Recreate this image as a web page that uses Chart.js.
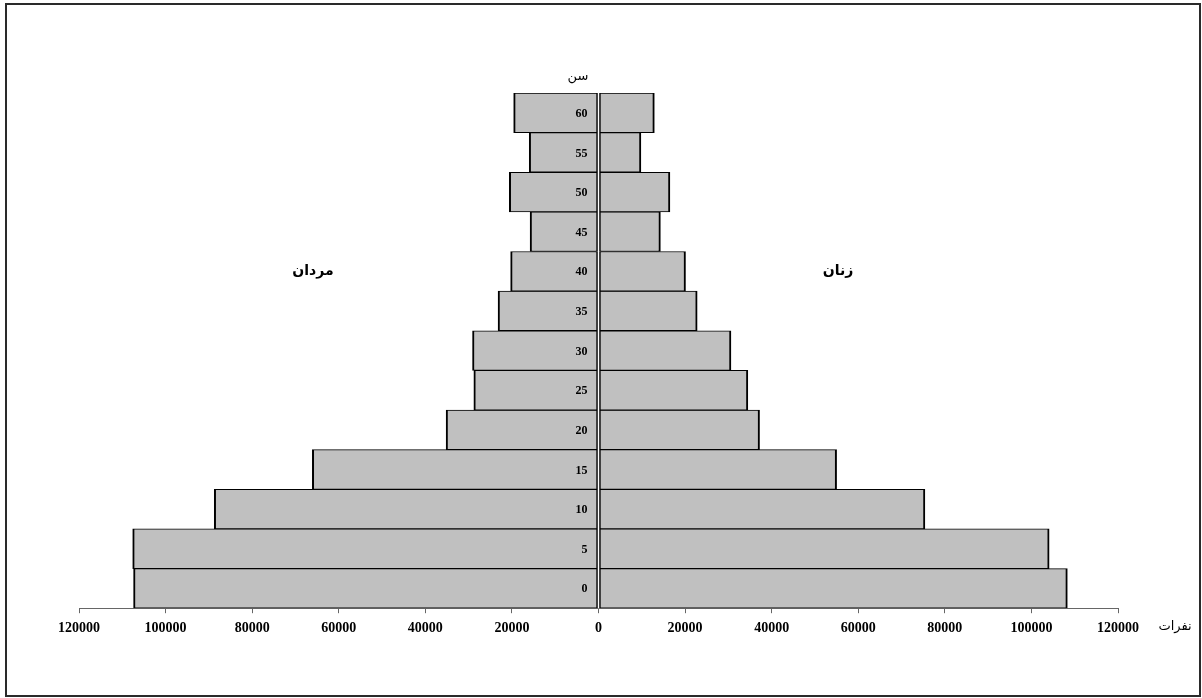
<!DOCTYPE html>
<html>
<head>
<meta charset="utf-8">
<script src="https://cdn.jsdelivr.net/npm/chart.js@4"></script>
<style>
  body { margin: 0; background: #fff; }
  #wrap { position: relative; width: 1202px; height: 698px; }
  #frame {
    position: absolute; left: 5px; top: 3px; width: 1196px; height: 694px;
    box-sizing: border-box; border: 2px solid #2a2a2a;
  }
  .lbl { position: absolute; font-family: "DejaVu Sans", sans-serif; color: #000; white-space: nowrap; transform: translate(-50%, -50%); }
</style>
</head>
<body>
<div id="wrap">
  <canvas id="chart" width="1202" height="698"></canvas>
  <div id="frame"></div>
  <div class="lbl" style="left:578px; top:75px; font-size:13px;">سن</div>
  <div class="lbl" style="left:313px; top:270px; font-size:14px; font-weight:bold;">مردان</div>
  <div class="lbl" style="left:838px; top:270px; font-size:14px; font-weight:bold;">زنان</div>
  <div class="lbl" style="left:1175px; top:625px; font-size:13px;">نفرات</div>
</div>
<script>
/* =========================
    DATA
========================= */

// Altersgruppen (unten nach oben)
const ages = ["0", "5", "10", "15", "20", "25", "30", "35", "40", "45", "50", "55", "60"];

// Männer (مردان) - links, negativ gezeichnet
const men = [107400, 107600, 88750, 66100, 35200, 28800, 29100, 23200, 20300, 15800, 20600, 16000, 19600];

// Frauen (زنان) - rechts
const women = [108300, 104100, 75400, 55000, 37200, 34500, 30600, 22800, 20100, 14300, 16500, 9800, 12900];

const xMin = -120000;
const xMax = 120000;
const xStep = 20000;


/* =========================
    PLUGIN: Alterslabels + Mittellinie
========================= */

const centerPlugin = {
  id: "centerPlugin",
  afterDatasetsDraw(chart) {
    const { ctx, chartArea, scales } = chart;
    const x0 = scales.x.getPixelForValue(0);

    // weisse Luecke zwischen beiden Seiten
    ctx.save();
    ctx.strokeStyle = "#fff";
    ctx.lineWidth = 1.5;
    ctx.beginPath();
    ctx.moveTo(x0, chartArea.top);
    ctx.lineTo(x0, chartArea.bottom);
    ctx.stroke();

    // Alterslabels links der Mitte
    ctx.fillStyle = "#000";
    ctx.font = "bold 12px 'Liberation Serif', serif";
    ctx.textAlign = "right";
    ctx.textBaseline = "middle";
    ages.forEach((a, i) => {
      ctx.fillText(a, x0 - 11, scales.y.getPixelForTick(i) + 1);
    });
    ctx.restore();
  }
};


/* =========================
    CHART
========================= */

new Chart(document.getElementById("chart"), {
  type: "bar",
  data: {
    labels: ages,
    datasets: [
      {
        label: "مردان",
        data: men.map(v => -v),
        backgroundColor: "#c0c0c0",
        borderColor: "#000",
        borderWidth: { top: 1, bottom: 1, left: 2, right: 2 },
        borderSkipped: false,
        barPercentage: 1,
        categoryPercentage: 1
      },
      {
        label: "زنان",
        data: women,
        backgroundColor: "#c0c0c0",
        borderColor: "#000",
        borderWidth: { top: 1, bottom: 1, left: 2, right: 2 },
        borderSkipped: false,
        barPercentage: 1,
        categoryPercentage: 1
      }
    ]
  },
  options: {
    indexAxis: "y",
    responsive: false,
    animation: false,
    layout: { padding: { left: 79, right: 84, top: 93, bottom: 54 } },
    plugins: {
      legend: { display: false },
      tooltip: { enabled: false }
    },
    scales: {
      x: {
        stacked: true,
        min: xMin,
        max: xMax,
        ticks: {
          stepSize: xStep,
          padding: 7,
          color: "#000",
          maxRotation: 0,
          font: { family: "'Liberation Serif', serif", size: 14, weight: "bold" },
          callback: v => Math.abs(v)
        },
        grid: {
          drawOnChartArea: false,
          drawTicks: true,
          tickLength: 5,
          color: "#666"
        },
        border: { display: true, color: "#666", width: 1 }
      },
      y: {
        stacked: true,
        reverse: true,
        display: false
      }
    }
  },
  plugins: [centerPlugin]
});
</script>
</body>
</html>
